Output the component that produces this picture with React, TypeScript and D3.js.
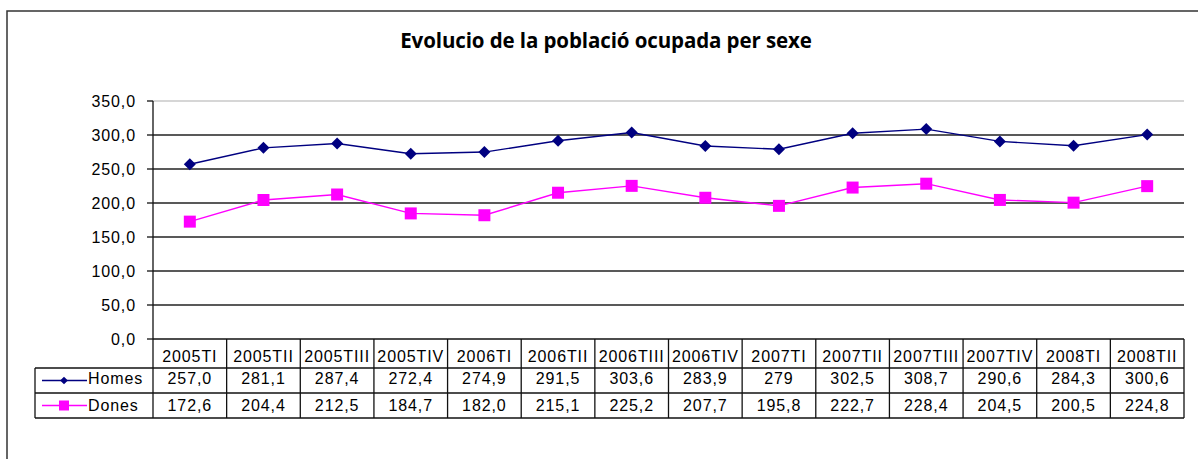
import React from 'react';
import * as d3 from 'd3';

const categories = ['2005TI', '2005TII', '2005TIII', '2005TIV', '2006TI', '2006TII', '2006TIII', '2006TIV', '2007TI', '2007TII', '2007TIII', '2007TIV', '2008TI', '2008TII'];
const homes = [257.0, 281.1, 287.4, 272.4, 274.9, 291.5, 303.6, 283.9, 279, 302.5, 308.7, 290.6, 284.3, 300.6];
const dones = [172.6, 204.4, 212.5, 184.7, 182.0, 215.1, 225.2, 207.7, 195.8, 222.7, 228.4, 204.5, 200.5, 224.8];
// the table shows the values as typed in the sheet
const homesLabels = ['257,0', '281,1', '287,4', '272,4', '274,9', '291,5', '303,6', '283,9', '279', '302,5', '308,7', '290,6', '284,3', '300,6'];
const donesLabels = ['172,6', '204,4', '212,5', '184,7', '182,0', '215,1', '225,2', '207,7', '195,8', '222,7', '228,4', '204,5', '200,5', '224,8'];
const yTicks = [0, 50, 100, 150, 200, 250, 300, 350];

const W = 1198, H = 459;
const plot = { left: 153, right: 1184, top: 101, bottom: 339 };
const rows = { homesTop: 368, donesTop: 393, bottom: 418, legendLeft: 35 };
const font = '"Liberation Sans", Arial, sans-serif';
const txt = { fontFamily: font, fontSize: 16, letterSpacing: 0.9 };

export default function App() {
  const x = d3.scaleBand<string>().domain(categories).range([plot.left, plot.right]);
  const y = d3.scaleLinear().domain([0, 350]).range([plot.bottom, plot.top]);
  const bw = x.bandwidth();
  const cx = (c: string) => (x(c) as number) + bw / 2;

  const line = d3
    .line<number>()
    .x((d, i) => cx(categories[i]))
    .y(d => y(d));

  const series = [
    { name: 'Homes', values: homes, labels: homesLabels, color: '#000080', rot: 45, size: 72, legendSize: 30, top: rows.homesTop, base: 384 },
    { name: 'Dones', values: dones, labels: donesLabels, color: '#ff00ff', rot: 0, size: 144, legendSize: 100, top: rows.donesTop, base: 411 }
  ];

  return (
    <svg width={W} height={H} style={{ position: 'absolute', left: 0, top: 0, background: '#fff' }}>
      <rect x={7} y={11} width={W + 20} height={H + 20} fill="#fff" stroke="#333" strokeWidth={1.5} />
      <text x={606} y={48} textAnchor="middle" style={{ fontFamily: '"Open Sans", sans-serif', fontWeight: 700, fontSize: 20.5, letterSpacing: -0.1 }}>
        Evolucio de la població ocupada per sexe
      </text>

      {/* gridlines and y axis */}
      {yTicks.map(t => (
        <g key={t}>
          {t > 0 && (
            <line x1={plot.left} x2={plot.right} y1={y(t)} y2={y(t)} stroke={t === 350 ? '#c8c8c8' : '#222'} strokeWidth={t === 350 ? 1.5 : 1.4} />
          )}
          <line x1={plot.left - 6} x2={plot.left} y1={y(t)} y2={y(t)} stroke="#111" strokeWidth={1.3} />
          <text x={136} y={y(t) + 6} textAnchor="end" style={txt}>
            {d3.format('.1f')(t).replace('.', ',')}
          </text>
        </g>
      ))}
      <line x1={plot.left} x2={plot.left} y1={plot.top} y2={rows.bottom} stroke="#111" strokeWidth={1.3} />
      <line x1={plot.left} x2={plot.right} y1={plot.bottom} y2={plot.bottom} stroke="#111" strokeWidth={1.3} />

      {/* series */}
      {series.map(s => (
        <g key={s.name}>
          <path d={line(s.values) as string} fill="none" stroke={s.color} strokeWidth={1.4} />
          {s.values.map((v, i) => (
            <path
              key={i}
              transform={`translate(${cx(categories[i])},${y(v)}) rotate(${s.rot})`}
              d={d3.symbol(d3.symbolSquare, s.size)() as string}
              fill={s.color}
            />
          ))}
        </g>
      ))}

      {/* data table */}
      {categories.map(c => (
        <text key={c} x={cx(c)} y={361.5} textAnchor="middle" style={txt}>
          {c}
        </text>
      ))}
      {categories.map(c => (
        <line key={c} x1={(x(c) as number) + bw} x2={(x(c) as number) + bw} y1={plot.bottom} y2={rows.bottom} stroke="#111" strokeWidth={1.3} />
      ))}
      {[rows.homesTop, rows.donesTop, rows.bottom].map(ry => (
        <line key={ry} x1={rows.legendLeft} x2={plot.right} y1={ry} y2={ry} stroke="#111" strokeWidth={1.3} />
      ))}
      <line x1={rows.legendLeft} x2={rows.legendLeft} y1={rows.homesTop} y2={rows.bottom} stroke="#111" strokeWidth={1.3} />

      {series.map(s => (
        <g key={s.name}>
          <line x1={42} x2={87} y1={s.top + 12.5} y2={s.top + 12.5} stroke={s.color} strokeWidth={1.3} />
          <path
            transform={`translate(64,${s.top + 12.5}) rotate(${s.rot})`}
            d={d3.symbol(d3.symbolSquare, s.legendSize)() as string}
            fill={s.color}
          />
          <text x={88} y={s.base} style={txt}>
            {s.name}
          </text>
          {s.labels.map((l, i) => (
            <text key={i} x={cx(categories[i])} y={s.base} textAnchor="middle" style={txt}>
              {l}
            </text>
          ))}
        </g>
      ))}
    </svg>
  );
}
